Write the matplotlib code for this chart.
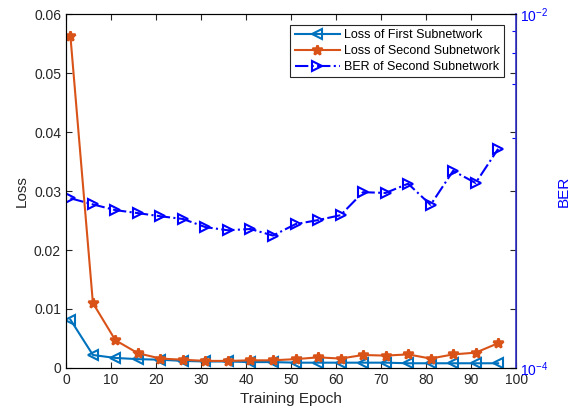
import numpy as np
import matplotlib.pyplot as plt
from matplotlib.ticker import FixedLocator, NullFormatter

plt.rcParams['font.family'] = ['Liberation Sans', 'DejaVu Sans']
plt.rcParams['font.size'] = 10
plt.rcParams['mathtext.fontset'] = 'custom'
plt.rcParams['mathtext.rm'] = 'Liberation Sans'
plt.rcParams['mathtext.it'] = 'Liberation Sans:italic'

# training epochs where the losses / BER were logged
epochs = [1, 6, 11, 16, 21, 26, 31, 36, 41, 46, 51, 56, 61, 66, 71, 76, 81, 86, 91, 96]

loss_first = [0.0082, 0.0022, 0.0017, 0.0015, 0.0014, 0.0012, 0.0011, 0.0011, 0.0010, 0.0010,
              0.0009, 0.0009, 0.0009, 0.0009, 0.0009, 0.0008, 0.0008, 0.0008, 0.0008, 0.0008]
loss_second = [0.0563, 0.0110, 0.0047, 0.0025, 0.0016, 0.0014, 0.0012, 0.0012, 0.0013, 0.0013,
               0.0015, 0.0018, 0.0016, 0.0022, 0.0021, 0.0023, 0.0016, 0.0023, 0.0026, 0.0042]
ber_second = [9.1e-4, 8.4e-4, 7.8e-4, 7.5e-4, 7.2e-4, 6.95e-4, 6.25e-4, 6.0e-4, 6.1e-4, 5.6e-4,
              6.5e-4, 6.85e-4, 7.3e-4, 9.85e-4, 9.75e-4, 1.1e-3, 8.35e-4, 1.3e-3, 1.11e-3, 1.73e-3]

c1 = '#0072BD'
c2 = '#D95319'
grey = '#262626'

fig = plt.figure(figsize=(5.78, 4.13), dpi=100)
ax1 = fig.add_axes([0.114, 0.109, 0.779, 0.857])
ax2 = ax1.twinx()

l1, = ax1.plot(epochs, loss_first, '-', color=c1, lw=1.5, marker='<', ms=7,
               mfc='none', mew=1.5, label='Loss of First Subnetwork')
l2, = ax1.plot(epochs, loss_second, '-', color=c2, lw=1.5, marker='*', ms=7,
               mew=1.8, label='Loss of Second Subnetwork')
l3, = ax2.semilogy(epochs, ber_second, '-.', color='b', lw=1.5, marker='>', ms=7,
                   mfc='none', mew=1.5, label='BER of Second Subnetwork')

ax1.set_xlim(0, 100)
ax1.set_ylim(0, 0.06)
ax1.set_xticks(np.arange(0, 101, 10))
ax1.set_yticks(np.arange(0, 0.061, 0.01))
ax1.set_yticklabels(['0', '0.01', '0.02', '0.03', '0.04', '0.05', '0.06'])
ax1.tick_params(direction='in', length=4, width=0.8, colors=grey, labelsize=10,
                top=True, right=True)
for s in ['left', 'bottom', 'top']:
    ax1.spines[s].set_color(grey)
    ax1.spines[s].set_linewidth(0.8)
ax1.set_xlabel('Training Epoch', fontsize=11, color=grey)
ax1.set_ylabel('Loss', fontsize=11, color=grey)

ax2.set_ylim(1e-4, 1e-2)
ax2.yaxis.set_major_locator(FixedLocator([1e-4, 1e-2]))
ax2.yaxis.set_minor_locator(FixedLocator([2e-3, 4e-3, 6e-3, 8e-3]))
ax2.yaxis.set_minor_formatter(NullFormatter())
ax2.set_yticklabels(['10$^{-4}$', '10$^{-2}$'])
ax2.tick_params(axis='y', which='both', direction='in', colors='b', labelsize=10, pad=3)
ax2.tick_params(axis='y', which='major', length=4, width=0.8)
ax2.tick_params(axis='y', which='minor', length=3, width=0.8)
ax2.spines['right'].set_color('#3333cc')
ax2.spines['right'].set_linewidth(1.2)
ax2.set_ylabel('BER', fontsize=11, color='b', labelpad=6)

leg = ax2.legend(handles=[l1, l2, l3], loc='upper right', bbox_to_anchor=(0.973, 0.969),
                 fontsize=9, fancybox=False, edgecolor=grey, framealpha=1,
                 handlelength=3.6, borderpad=0.35, labelspacing=0.3, handletextpad=0.3,
                 borderaxespad=0)
leg.get_frame().set_linewidth(0.8)

fig.savefig('out.png', dpi=100)
